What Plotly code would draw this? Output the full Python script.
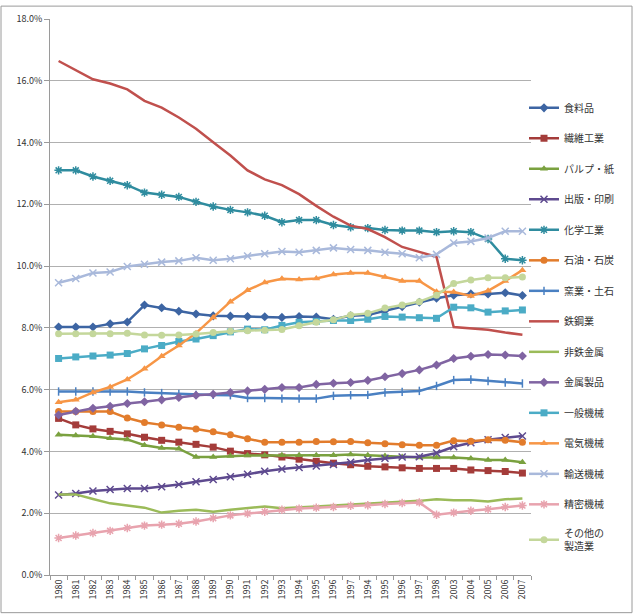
import plotly.graph_objects as go

years = ['1980','1981','1982','1983','1984','1985','1986','1987','1988','1989',
         '1990','1991','1992','1993','1994','1995','1996','1997',
         '1994','1995','1996','1997','1998','2003','2004','2005','2006','2007']

names = ['食料品','繊維工業','パルプ・紙','出版・印刷','化学工業','石油・石炭','窯業・土石',
         '鉄鋼業','非鉄金属','金属製品','一般機械','電気機械','輸送機械','精密機械','その他の<br>製造業']

food = [8.03,8.03,8.03,8.13,8.19,8.74,8.65,8.54,8.45,8.39,8.38,8.37,8.36,8.34,8.37,8.35,8.28,8.39,8.42,8.56,8.69,8.83,8.96,9.06,9.10,9.10,9.14,9.05]
textile = [5.07,4.86,4.73,4.65,4.57,4.46,4.36,4.30,4.23,4.14,4.01,3.93,3.89,3.82,3.75,3.68,3.62,3.57,3.52,3.50,3.47,3.45,3.45,3.45,3.40,3.38,3.35,3.30]
pulp = [4.54,4.52,4.49,4.43,4.39,4.20,4.11,4.09,3.82,3.82,3.85,3.87,3.87,3.88,3.88,3.88,3.88,3.90,3.88,3.85,3.82,3.80,3.80,3.80,3.77,3.72,3.72,3.65]
printing = [2.59,2.64,2.72,2.77,2.80,2.80,2.86,2.93,3.02,3.09,3.18,3.26,3.36,3.43,3.48,3.53,3.58,3.65,3.72,3.78,3.82,3.83,3.95,4.15,4.28,4.38,4.45,4.50]
chemical = [13.10,13.10,12.90,12.76,12.62,12.38,12.31,12.24,12.08,11.93,11.82,11.74,11.63,11.42,11.49,11.49,11.33,11.26,11.23,11.17,11.15,11.15,11.10,11.13,11.10,10.88,10.24,10.19]
petroleum = [5.29,5.29,5.29,5.29,5.08,4.94,4.86,4.78,4.73,4.64,4.54,4.41,4.30,4.30,4.30,4.32,4.31,4.32,4.28,4.25,4.22,4.20,4.20,4.35,4.33,4.38,4.36,4.30]
ceramic = [5.94,5.94,5.94,5.94,5.94,5.91,5.89,5.86,5.83,5.83,5.82,5.73,5.73,5.71,5.71,5.71,5.80,5.82,5.83,5.91,5.93,5.96,6.12,6.31,6.33,6.28,6.23,6.20]
steel = [16.64,16.34,16.05,15.91,15.72,15.35,15.13,14.81,14.45,14.01,13.58,13.10,12.81,12.62,12.33,11.95,11.60,11.31,11.20,10.94,10.62,10.46,10.30,8.03,7.99,7.94,7.85,7.78]
nonferrous = [2.61,2.61,2.46,2.32,2.25,2.18,2.02,2.08,2.11,2.05,2.11,2.16,2.22,2.16,2.20,2.22,2.25,2.28,2.30,2.35,2.38,2.40,2.45,2.42,2.42,2.38,2.45,2.48]
metal = [5.18,5.30,5.40,5.46,5.55,5.61,5.67,5.75,5.82,5.85,5.91,5.96,6.01,6.07,6.07,6.17,6.21,6.23,6.30,6.42,6.52,6.64,6.80,7.01,7.08,7.14,7.12,7.09]
general_mach = [7.01,7.06,7.09,7.12,7.17,7.32,7.43,7.56,7.64,7.75,7.87,7.96,7.94,8.08,8.18,8.21,8.24,8.24,8.28,8.37,8.35,8.33,8.31,8.67,8.65,8.51,8.55,8.58]
electric = [5.59,5.67,5.91,6.09,6.33,6.68,7.08,7.43,7.83,8.34,8.85,9.22,9.47,9.59,9.57,9.60,9.73,9.78,9.78,9.65,9.52,9.52,9.17,9.16,9.03,9.20,9.52,9.87]
transport = [9.46,9.60,9.78,9.81,9.99,10.06,10.13,10.17,10.27,10.19,10.24,10.33,10.40,10.47,10.45,10.51,10.59,10.54,10.51,10.45,10.40,10.27,10.38,10.75,10.80,10.91,11.13,11.13]
precision = [1.20,1.28,1.36,1.43,1.52,1.60,1.63,1.66,1.73,1.84,1.93,1.99,2.05,2.11,2.15,2.18,2.20,2.24,2.26,2.30,2.33,2.35,1.95,2.02,2.08,2.13,2.20,2.25]
other = [7.81,7.81,7.81,7.81,7.83,7.77,7.76,7.77,7.80,7.85,7.89,7.91,7.92,7.95,8.07,8.18,8.26,8.42,8.47,8.64,8.74,8.85,9.06,9.44,9.55,9.62,9.62,9.65]

series = [food, textile, pulp, printing, chemical, petroleum, ceramic, steel,
          nonferrous, metal, general_mach, electric, transport, precision, other]

colors = ['#3D65A3','#A43C3A','#7AA13F','#5E4A8F','#2F8C9F','#E27C2C','#4A80C2',
          '#C0504D','#9BBB59','#8064A2','#4BACC6','#F79646','#A9B9DB','#E8A3AE','#C4D79B']
symbols = ['diamond','square','triangle-up','x-thin-open','asterisk-open','circle','line-ns-open',
           None, None,'diamond','square','triangle-up','x-thin-open','asterisk-open','circle']
sizes = [7,7,7,7,7,7,6,0,0,7,7,7,7,7,7]

# unique category keys for repeated year labels
seen = {}
xcats = []
for y in years:
    n = seen.get(y, 0)
    xcats.append(y + '\u200b' * n)
    seen[y] = n + 1

fig = go.Figure()
for i, (nm, vals) in enumerate(zip(names, series)):
    sym = symbols[i]
    if sym is None:
        fig.add_trace(go.Scatter(x=xcats, y=vals, name=nm, mode='lines',
                                 line=dict(color=colors[i], width=2.5),
                                 legendgroup='g%d' % i))
    else:
        open_sym = sym.endswith('open')
        fig.add_trace(go.Scatter(x=xcats, y=vals, name=nm, mode='lines+markers',
                                 line=dict(color=colors[i], width=2.5),
                                 marker=dict(symbol=sym, size=sizes[i], color=colors[i],
                                             line=dict(color=colors[i], width=1.5 if open_sym else 0)),
                                 legendgroup='g%d' % i))

L, R, T, B = 50, 531, 14, 575
W, H = 634, 615
pw, ph = R - L, B - T

def px(x):
    return (x - L) / pw

def py(y):
    return (B - y) / ph

fig.update_layout(
    width=W, height=H,
    margin=dict(l=L, r=W - R, t=T, b=H - B),
    paper_bgcolor='white', plot_bgcolor='white',
    font=dict(family='Noto Sans CJK JP, DejaVu Sans, sans-serif', size=10, color='#333333'),
    showlegend=True,
    legend=dict(x=px(524), y=py(89), xanchor='left', yanchor='top',
                tracegroupgap=11.5, font=dict(size=10, color='#333333'),
                bgcolor='rgba(0,0,0,0)', itemwidth=30),
    xaxis=dict(type='category', categoryorder='array', categoryarray=xcats,
               tickmode='array', tickvals=xcats, ticktext=years,
               tickangle=-90, tickson='boundaries', ticks='outside', ticklen=4,
               tickcolor='#9a9a9a', showline=True, linecolor='#9a9a9a', linewidth=1,
               showgrid=False, tickfont=dict(size=9, color='#333333'),
               range=[-0.5, len(years) - 0.5]),
    yaxis=dict(range=[0, 18], dtick=2, tickformat='.1f', ticksuffix='%',
               showgrid=True, gridcolor='#b0b0b0', gridwidth=1,
               showline=True, linecolor='#9a9a9a', linewidth=1,
               ticks='outside', ticklen=5, tickcolor='#9a9a9a',
               zeroline=False, tickfont=dict(size=9, color='#333333')),
)

fig.add_shape(type='rect', xref='paper', yref='paper',
              x0=px(1), x1=px(632), y0=py(613), y1=py(1),
              line=dict(color='#9a9a9a', width=1), fillcolor='rgba(0,0,0,0)', layer='below')

fig.write_html('out.html')
